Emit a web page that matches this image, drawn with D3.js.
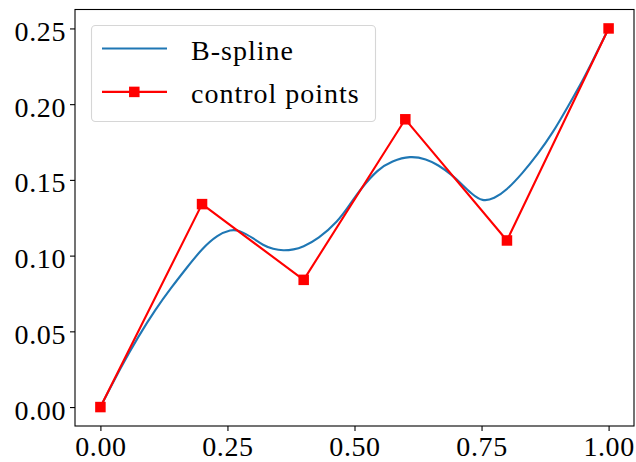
<!DOCTYPE html>
<html>
<head>
<meta charset="utf-8">
<script src="https://cdn.jsdelivr.net/npm/d3@7"></script>
<style>
	body { margin: 0; background: #fff; }
	svg { display: block; }
	text { font-family: "Liberation Serif", "Times New Roman", serif; fill: #000; }
</style>
</head>
<body>
<svg id="chart" width="636" height="462"></svg>
<script>

// Control polygon of the spline.
const ctrlX = [0.0, 0.2, 0.4, 0.6, 0.8, 1.0];
const ctrlY = [0.0, 0.134, 0.084, 0.190, 0.110, 0.250];

// The spline itself.
const splineX = [0.0, 0.04, 0.075, 0.108, 0.14, 0.17, 0.20, 0.23, 0.255, 0.275, 0.30, 0.32, 0.34, 0.36, 0.38, 0.40, 0.43, 0.465, 0.49, 0.515, 0.545, 0.575, 0.609, 0.64, 0.665, 0.69, 0.71, 0.73, 0.752, 0.775, 0.80, 0.83, 0.86, 0.89, 0.92, 0.95, 0.975, 1.0];
const splineY = [0.0, 0.0258, 0.0465, 0.0640, 0.0790, 0.0920, 0.1040, 0.1128, 0.1166, 0.1160, 0.1115, 0.1072, 0.1045, 0.1035, 0.1041, 0.1062, 0.1120, 0.1225, 0.1333, 0.1448, 0.1558, 0.1621, 0.1650, 0.1635, 0.1595, 0.1535, 0.1475, 0.1412, 0.1368, 0.1382, 0.1440, 0.1545, 0.1670, 0.1815, 0.1985, 0.2165, 0.2330, 0.25];

// Ticks and legend.
const xTicks = [0.0, 0.25, 0.5, 0.75, 1.0];
const yTicks = [0.0, 0.05, 0.10, 0.15, 0.20, 0.25];
const legendLabels = ["B-spline", "control points"];


/*
plot area of the axes, in svg pixels
*/
const box = {left: 75, right: 634, top: 9.5, bottom: 426};

const x = d3.scaleLinear().domain([-0.05, 1.05]).range([box.left, box.right]);
const y = d3.scaleLinear().domain([-0.0125, 0.2625]).range([box.bottom, box.top]);

const blue = "#1f77b4";
const red = "#ff0000";

const svg = d3.select("#chart");

svg.append("clipPath").attr("id", "plotclip")
	.append("rect")
	.attr("x", box.left).attr("y", box.top)
	.attr("width", box.right - box.left).attr("height", box.bottom - box.top);


// Axes: matplotlib style, outward ticks, no outer ticks.
const xAxis = svg.append("g")
	.attr("transform", `translate(0,${box.bottom})`)
	.call(d3.axisBottom(x).tickValues(xTicks).tickFormat(d3.format(".2f")).tickSize(5).tickSizeOuter(0));

const yAxis = svg.append("g")
	.attr("transform", `translate(${box.left},0)`)
	.call(d3.axisLeft(y).tickValues(yTicks).tickFormat(d3.format(".2f")).tickSize(5).tickSizeOuter(0));

[xAxis, yAxis].forEach(a => {
	a.select(".domain").remove();
	a.selectAll(".tick line").attr("stroke", "#000").attr("stroke-width", 1.1);
	a.selectAll(".tick text")
	  .attr("font-family", null)
	  .style("font-size", "28px")
	  .style("letter-spacing", "0.6px")
	  .attr("fill", "#000");
});

// keep the bottom labels inside the window
xAxis.selectAll(".tick text").attr("y", 29.5).attr("dy", null);
yAxis.selectAll(".tick text").attr("x", -9).attr("dy", null).attr("y", 12);


// Data.
const spline = splineX.map((v, i) => [v, splineY[i]]);
const ctrl = ctrlX.map((v, i) => [v, ctrlY[i]]);

const plot = svg.append("g").attr("clip-path", "url(#plotclip)");

plot.append("path")
	.datum(spline)
	.attr("fill", "none")
	.attr("stroke", blue)
	.attr("stroke-width", 2.1)
	.attr("d", d3.line().x(d => x(d[0])).y(d => y(d[1])).curve(d3.curveNatural));

plot.append("path")
	.datum(ctrl)
	.attr("fill", "none")
	.attr("stroke", red)
	.attr("stroke-width", 2.1)
	.attr("stroke-linejoin", "round")
	.attr("d", d3.line().x(d => x(d[0])).y(d => y(d[1])));

const ms = 10.5;
svg.append("g")
	.selectAll("rect")
	.data(ctrl)
	.join("rect")
	  .attr("x", d => x(d[0]) - ms/2)
	  .attr("y", d => y(d[1]) - ms/2)
	  .attr("width", ms)
	  .attr("height", ms)
	  .attr("fill", red);


// Frame (all four spines).
svg.append("rect")
	.attr("x", box.left).attr("y", box.top)
	.attr("width", box.right - box.left).attr("height", box.bottom - box.top)
	.attr("fill", "none")
	.attr("stroke", "#000")
	.attr("stroke-width", 1.1);


// Legend.
const legend = svg.append("g").attr("transform", "translate(91,25)");

legend.append("rect")
	.attr("x", 0.5).attr("y", 0.5)
	.attr("width", 284).attr("height", 96)
	.attr("rx", 4)
	.attr("fill", "#fff").attr("fill-opacity", 0.8)
	.attr("stroke", "#d6d6d6").attr("stroke-width", 1.1);

const entries = legend.selectAll("g.entry")
	.data(legendLabels)
	.join("g")
	  .attr("class", "entry")
	  .attr("transform", (d, i) => `translate(0,${23.5 + i*43.4})`);

entries.append("line")
	.attr("x1", 11).attr("x2", 76)
	.attr("stroke", (d, i) => i == 0 ? blue : red)
	.attr("stroke-width", 2.1);

entries.filter((d, i) => i == 1)
	.append("rect")
	.attr("x", 43.3 - ms/2).attr("y", -ms/2)
	.attr("width", ms).attr("height", ms)
	.attr("fill", red);

entries.append("text")
	.attr("x", 100)
	.attr("y", 11.5)
	.style("font-size", "28px")
	.style("letter-spacing", "1px")
	.text(d => d);

</script>
</body>
</html>
